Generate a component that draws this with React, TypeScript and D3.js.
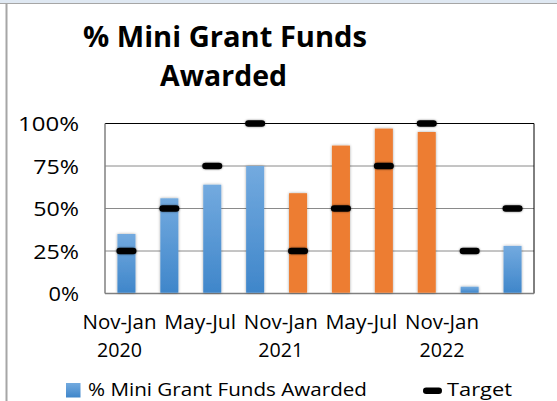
import React from "react";
import * as d3 from "d3";

const categories = [
  "Nov-Jan 2020", "Feb-Apr 2020", "May-Jul 2020", "Aug-Oct 2020",
  "Nov-Jan 2021", "Feb-Apr 2021", "May-Jul 2021", "Aug-Oct 2021",
  "Nov-Jan 2022", "Feb-Apr 2022",
];
const fundsAwarded = [0.35, 0.56, 0.64, 0.75, 0.59, 0.87, 0.97, 0.95, 0.04, 0.28];
const targets = [0.25, 0.5, 0.75, 1.0, 0.25, 0.5, 0.75, 1.0, 0.25, 0.5];
const highlighted = [false, false, false, false, true, true, true, true, false, false];
const yTicks = [0, 0.25, 0.5, 0.75, 1.0];
const xTickLabels = [
  ["Nov-Jan", "2020"],
  ["May-Jul", ""],
  ["Nov-Jan", "2021"],
  ["May-Jul", ""],
  ["Nov-Jan", "2022"],
];
const title = ["% Mini Grant Funds", "Awarded"];
const seriesNames = ["% Mini Grant Funds Awarded", "Target"];

const W = 557;
const H = 401;
const FONT = "'Open Sans', 'DejaVu Sans', sans-serif";

export default function App() {
  const left = 105, right = 534, top = 123.5, bottom = 293.5;
  const x = d3.scaleBand<string>().domain(categories).range([left, right]).paddingInner(0.58).paddingOuter(0.29);
  const y = d3.scaleLinear().domain([0, 1]).range([bottom, top]);
  const labelX = d3.scalePoint<number>().domain(xTickLabels.map((_, i) => i)).range([119.5, 442]);
  const fmt = d3.format(".0%");

  return (
    <svg width={W} height={H} style={{ position: "absolute", left: 0, top: 0, background: "#fff" }} fontFamily={FONT}>
      <defs>
        <linearGradient id="blueGrad" x1="0" y1="0" x2="0" y2="1">
          <stop offset="0" stopColor="#73aadf" />
          <stop offset="1" stopColor="#3f86ca" />
        </linearGradient>
        <filter id="shadow" x="-50%" y="-50%" width="200%" height="200%">
          <feGaussianBlur in="SourceAlpha" stdDeviation="1.4" />
          <feComponentTransfer><feFuncA type="linear" slope="0.35" /></feComponentTransfer>
          <feMerge><feMergeNode /><feMergeNode in="SourceGraphic" /></feMerge>
        </filter>
        <filter id="shadowT" x="-50%" y="-80%" width="200%" height="260%">
          <feGaussianBlur in="SourceAlpha" stdDeviation="1.2" />
          <feComponentTransfer><feFuncA type="linear" slope="0.5" /></feComponentTransfer>
          <feMerge><feMergeNode /><feMergeNode in="SourceGraphic" /></feMerge>
        </filter>
      </defs>

      {/* window frame */}
      <rect x={0} y={0} width={W} height={3.5} fill="#dfe8f2" />
      <line x1={0} x2={W} y1={3.5} y2={3.5} stroke="#a6a6a6" strokeWidth={1.2} />
      <line x1={6.5} x2={6.5} y1={3.5} y2={H} stroke="#a6a6a6" strokeWidth={2} />

      {/* title */}
      <text x={225} y={47} textAnchor="middle" fontSize={29} fontWeight="bold" textLength={284} lengthAdjust="spacingAndGlyphs">{title[0]}</text>
      <text x={223.5} y={86} textAnchor="middle" fontSize={29} fontWeight="bold" textLength={127} lengthAdjust="spacingAndGlyphs">{title[1]}</text>

      {/* gridlines */}
      {yTicks.map((t) => (
        <line key={t} x1={left} x2={right} y1={y(t)} y2={y(t)} stroke={t === 1 ? "#000" : "#8a8a8a"} strokeWidth={1} />
      ))}
      <line x1={right} x2={right} y1={top} y2={bottom} stroke="#000" strokeWidth={1} />
      <line x1={left} x2={left} y1={top} y2={bottom} stroke="#808080" strokeWidth={1.5} />
      <line x1={left} x2={right} y1={bottom} y2={bottom} stroke="#808080" strokeWidth={1.5} />

      {/* y tick labels */}
      {yTicks.map((t) => (
        <text key={t} x={79} y={y(t) + 7.5} textAnchor="end" fontSize={19.5} fill="#000"
          textLength={fmt(t).length * 15.25} lengthAdjust="spacingAndGlyphs">{fmt(t)}</text>
      ))}

      {/* bars */}
      {categories.map((c, i) => (
        <rect key={c} x={x(c)} y={y(fundsAwarded[i])} width={x.bandwidth()} height={bottom - y(fundsAwarded[i]) - 0.75}
          fill={highlighted[i] ? "#ed7d31" : "url(#blueGrad)"} filter="url(#shadow)" />
      ))}

      {/* targets */}
      {categories.map((c, i) => (
        <rect key={c} x={(x(c) as number) + x.bandwidth() / 2 - 10} y={y(targets[i]) - 3.3} width={20} height={6.6} rx={3.3}
          fill="#000" filter="url(#shadowT)" />
      ))}

      {/* x tick labels */}
      {xTickLabels.map((lab, i) => (
        <g key={i}>
          <text x={labelX(i)} y={329.3} textAnchor="middle" fontSize={19.5} textLength={lab[0] === "Nov-Jan" ? 74 : 72} lengthAdjust="spacingAndGlyphs">{lab[0]}</text>
          {lab[1] && <text x={labelX(i)} y={357.3} textAnchor="middle" fontSize={19.5} textLength={45} lengthAdjust="spacingAndGlyphs">{lab[1]}</text>}
        </g>
      ))}

      {/* legend */}
      <rect x={66} y={383} width={14.5} height={14.5} fill="url(#blueGrad)" />
      <text x={88} y={396} fontSize={19} textLength={279} lengthAdjust="spacingAndGlyphs">{seriesNames[0]}</text>
      <rect x={423} y={387.5} width={19} height={6.5} rx={3.2} fill="#000" />
      <text x={447} y={396} fontSize={19} textLength={65} lengthAdjust="spacingAndGlyphs">{seriesNames[1]}</text>
    </svg>
  );
}
